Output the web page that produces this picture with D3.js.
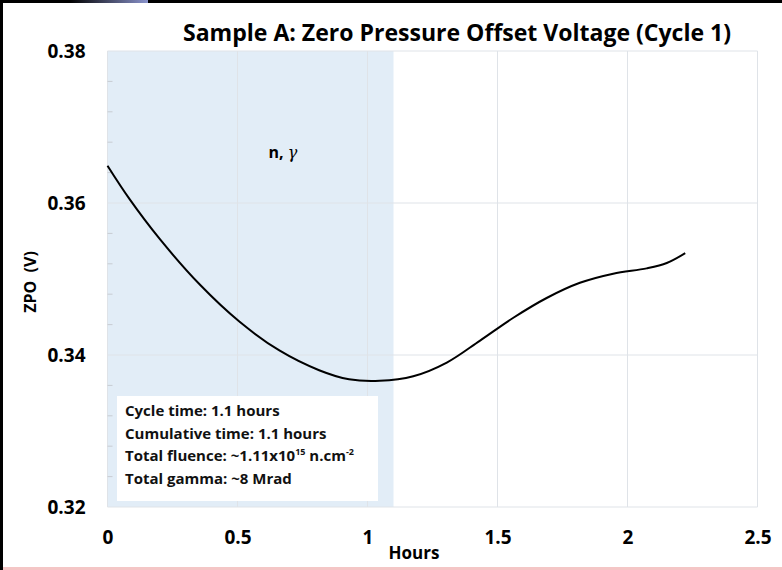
<!DOCTYPE html>
<html><head><meta charset="utf-8">
<script src="https://cdn.jsdelivr.net/npm/d3@7"></script>
<style>body{margin:0;background:#fff;}svg{display:block;}</style>
</head><body>
<script>
const hours = [0, 0.085, 0.2, 0.354, 0.507, 0.661, 0.814, 0.929, 1.047, 1.176, 1.305, 1.433, 1.561, 1.689, 1.817, 1.945, 2.074, 2.151, 2.222];
const zpo   = [0.3649, 0.3605, 0.3553, 0.3493, 0.3444, 0.3406, 0.3380, 0.3368, 0.3366, 0.3372, 0.3390, 0.3419, 0.3449, 0.3475, 0.3495, 0.3507, 0.3514, 0.3521, 0.3534];
const xTicks = [0, 0.5, 1, 1.5, 2, 2.5];
const yTicks = [0.32, 0.34, 0.36, 0.38];
const yMinorTicks = [0.324, 0.328, 0.332, 0.336, 0.344, 0.348, 0.352, 0.356, 0.364, 0.368, 0.372, 0.376];
const shadedRange = [0, 1.1];
const titleText = "Sample A: Zero Pressure Offset Voltage (Cycle 1)";
const infoLines = ["Cycle time: 1.1 hours", "Cumulative time: 1.1 hours", "Total fluence: ~1.11x10|15| n.cm|-2", "Total gamma: ~8 Mrad"];

const W = 782, H = 570;
const font = "'Open Sans',sans-serif";
const svg = d3.select("body").append("svg").attr("width", W).attr("height", H);

// frame decorations
const defs = svg.append("defs");
const lg = defs.append("linearGradient").attr("id", "tg").attr("x1", "0").attr("x2", "1");
lg.append("stop").attr("offset", "0").attr("stop-color", "#000");
lg.append("stop").attr("offset", "1").attr("stop-color", "#8a93cc");
svg.append("rect").attr("x", 0).attr("y", 0).attr("width", W).attr("height", 3).attr("fill", "#000");
svg.append("rect").attr("x", 70).attr("y", 0).attr("width", 78).attr("height", 3).attr("fill", "url(#tg)");
svg.append("rect").attr("x", 0).attr("y", 0).attr("width", 3).attr("height", H).attr("fill", "#000");
svg.append("rect").attr("x", 3).attr("y", 567).attr("width", W).attr("height", 3).attr("fill", "#f4c6c6");

const x = d3.scaleLinear().domain([0, 2.5]).range([107.5, 757.5]);
const y = d3.scaleLinear().domain([0.32, 0.38]).range([507, 51]);

// shaded irradiation region
svg.append("rect")
  .attr("x", x(shadedRange[0])).attr("y", y(0.38))
  .attr("width", x(shadedRange[1]) - x(shadedRange[0]))
  .attr("height", y(0.32) - y(0.38))
  .attr("fill", "#e2edf7");

// grid
svg.append("g").selectAll("line").data(xTicks).join("line")
  .attr("x1", d => x(d)).attr("x2", d => x(d)).attr("y1", y(0.38)).attr("y2", y(0.32))
  .attr("stroke", "#dfe3e8").attr("stroke-width", 1);
svg.append("g").selectAll("line").data(yTicks).join("line")
  .attr("x1", x(0)).attr("x2", x(2.5)).attr("y1", d => y(d)).attr("y2", d => y(d))
  .attr("stroke", "#dfe3e8").attr("stroke-width", 1);
svg.append("g").selectAll("line").data(yMinorTicks).join("line")
  .attr("x1", x(0)).attr("x2", x(0) + 5).attr("y1", d => y(d)).attr("y2", d => y(d))
  .attr("stroke", "#c8ccd2").attr("stroke-width", 1);

// axes labels
const yAxis = d3.axisLeft(y).tickValues(yTicks).tickFormat(d3.format(".2f")).tickSize(0).tickPadding(22);
const gy = svg.append("g").attr("transform", `translate(${x(0)},0)`).call(yAxis);
gy.select(".domain").remove();
gy.selectAll("text").attr("font-family", font).attr("font-weight", "bold").attr("font-size", 19).attr("fill", "#000");

const xAxis = d3.axisBottom(x).tickValues(xTicks).tickFormat(d => d3.format("")(d)).tickSize(0).tickPadding(24);
const gx = svg.append("g").attr("transform", `translate(0,${y(0.32)})`).call(xAxis);
gx.select(".domain").remove();
gx.selectAll("text").attr("font-family", font).attr("font-weight", "bold").attr("font-size", 19).attr("fill", "#000");

// info box
svg.append("rect").attr("x", 117).attr("y", 396).attr("width", 261).attr("height", 105).attr("fill", "#fff");
const info = svg.append("g").attr("font-family", font).attr("font-weight", "bold").attr("font-size", 15).attr("fill", "#111");
infoLines.forEach((ln, i) => {
  const t = info.append("text").attr("x", 125).attr("y", 416 + i * 22.5);
  const parts = ln.split("|");
  parts.forEach((p, j) => {
    const ts = t.append("tspan").text(p);
    if (j % 2 === 1) ts.attr("baseline-shift", "super").attr("font-size", 9);
  });
});

// line
const pts = hours.map((h, i) => [h, zpo[i]]);
svg.append("path").datum(pts)
  .attr("d", d3.line().x(d => x(d[0])).y(d => y(d[1])).curve(d3.curveCatmullRom.alpha(0.5)))
  .attr("fill", "none").attr("stroke", "#000").attr("stroke-width", 2);

// annotations
svg.append("text").attr("x", 283).attr("y", 158).attr("text-anchor", "middle")
  .attr("font-family", font).attr("font-weight", "bold").attr("font-size", 16).text("n, ")
  .append("tspan").attr("font-family", "'DejaVu Serif',serif").attr("font-style", "italic").attr("font-weight", "normal").text("\u03b3");

svg.append("text").attr("x", 457).attr("y", 41).attr("text-anchor", "middle")
  .attr("font-family", font).attr("font-weight", "bold").attr("font-size", 24)
  .attr("textLength", 548).attr("lengthAdjust", "spacingAndGlyphs").text(titleText);

svg.append("text").attr("x", 414).attr("y", 559).attr("text-anchor", "middle")
  .attr("font-family", font).attr("font-weight", "bold").attr("font-size", 17).text("Hours");

svg.append("text").attr("transform", "translate(36,282) rotate(-90)").attr("text-anchor", "middle")
  .attr("font-family", font).attr("font-weight", "bold").attr("font-size", 16).attr("xml:space", "preserve").text("ZPO  (V)");
</script>
</body></html>
